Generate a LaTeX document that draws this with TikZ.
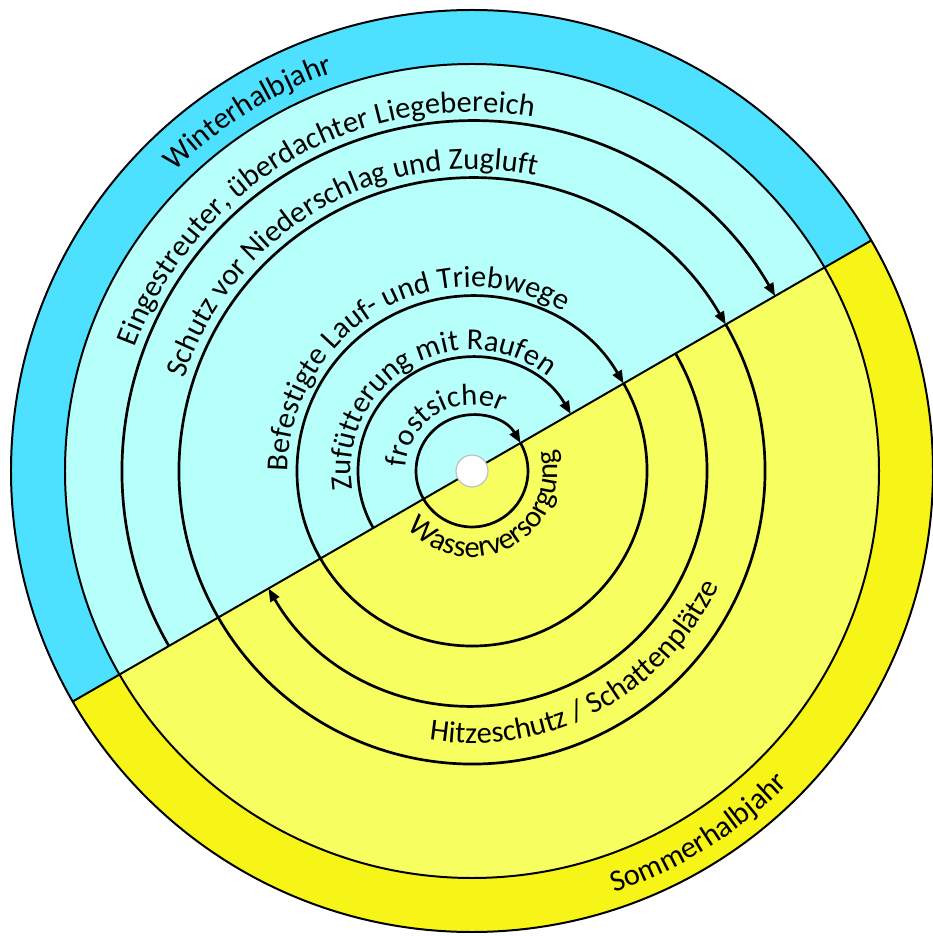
\documentclass[tikz,border=0pt]{standalone}
\usepackage{fontspec}
\setmainfont{Carlito}
\usetikzlibrary{arrows.meta}
\usetikzlibrary{decorations.text}

\definecolor{winterdark}{RGB}{77,225,255}
\definecolor{winterlight}{RGB}{183,255,250}
\definecolor{summerdark}{RGB}{247,244,23}
\definecolor{summerlight}{RGB}{247,254,96}

\newcommand\ringfont{\fontsize{26}{31}\selectfont}
% text on the upper (winter) side, reading clockwise: radius, middle angle, text
\newcommand\toplabel[3]{%
 \path[decorate, decoration={text along path, text align=center, text={|\ringfont|#3}}]
  (#2+110:#1) arc[start angle=#2+110, end angle=#2-110, radius=#1];}
% text on the lower (summer) side, reading counterclockwise
\newcommand\bottomlabel[3]{%
 \path[decorate, decoration={text along path, text align=center, text={|\ringfont|#3}}]
  (#2-110:#1) arc[start angle=#2-110, end angle=#2+110, radius=#1];}

\tikzset{rim/.style={draw=black, line width=1.7pt},
 ring/.style={draw=black, line width=2.3pt},
 ringarrow/.style={ring, -{Triangle[length=11pt, width=8.5pt]}},
 hub/.style={draw=black!25, fill=white, line width=1pt},
 }

\begin{document}
\begin{tikzpicture}[x=0.03cm, y=0.03cm]
        \useasboundingbox (-472,-465) rectangle (460,471);

        % half discs
        \fill[winterdark] (0,0) -- (30:461) arc[start angle=30, end angle=210, radius=461] -- cycle;
        \fill[summerdark] (0,0) -- (210:461) arc[start angle=210, end angle=390, radius=461] -- cycle;
        \fill[winterlight] (0,0) -- (30:407) arc[start angle=30, end angle=210, radius=407] -- cycle;
        \fill[summerlight] (0,0) -- (210:407) arc[start angle=210, end angle=390, radius=407] -- cycle;
        \draw[rim] (0,0) circle[radius=461];
        \draw[rim] (0,0) circle[radius=407];
        \draw[rim] (210:461) -- (30:461);

        % rings
        \draw[ringarrow] (30:56) arc[start angle=30, end angle=-330, radius=56];
        \draw[ringarrow] (210:114) arc[start angle=210, end angle=30, radius=114];
        \draw[ringarrow] (30:175) arc[start angle=30, end angle=-330, radius=175];
        \draw[ringarrow] (30:235) arc[start angle=30, end angle=-150, radius=235];
        \draw[ringarrow] (30:293) arc[start angle=30, end angle=-330, radius=293];
        \draw[ringarrow] (210:350) arc[start angle=210, end angle=30, radius=350];

        \draw[hub] (0,0) circle[radius=16];

        % labels
        \toplabel{422}{122}{Winterhalbjahr}
        \toplabel{359}{120}{Eingestreuter, überdachter Liegebereich}
        \toplabel{302}{120}{Schutz vor Niederschlag und Zugluft}
        \toplabel{184}{120}{Befestigte Lauf- und Triebwege}
        \toplabel{121}{120}{Zufütterung mit Raufen}
        \toplabel{66}{120}{frostsicher}
        \bottomlabel{86}{298}{Wasserversorgung}
        \bottomlabel{272}{298}{Hitzeschutz / Schattenplätze}
        \bottomlabel{445}{302}{Sommerhalbjahr}
    \end{tikzpicture}
\end{document}
